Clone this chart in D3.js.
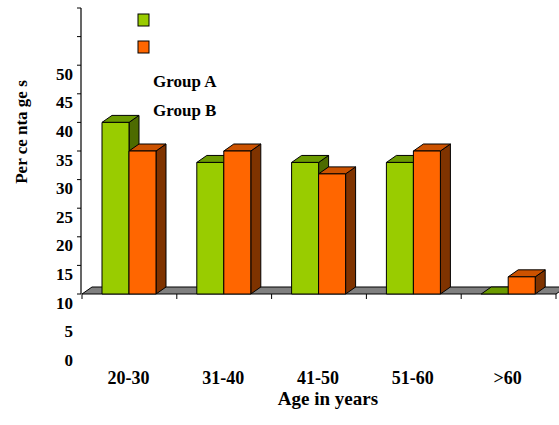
<!DOCTYPE html>
<html>
<head>
<meta charset="utf-8">
<script src="https://cdn.jsdelivr.net/npm/d3@7"></script>
<style>
  html, body { margin: 0; padding: 0; background: #fff; }
  svg { display: block; }
  text { font-family: "Times New Roman", "Liberation Serif", serif; font-weight: bold; fill: #000; }
</style>
</head>
<body>
<script>
// Age groups and percentage of each group
const categories = ["20-30", "31-40", "41-50", "51-60", ">60"];
const groupA = [40, 33, 33, 33, 10];
const groupB = [35, 35, 31, 35, 13];
const seriesNames = ["Group A", "Group B"];
const axisTicks = [10, 15, 20, 25, 30, 35, 40, 45, 50, 55, 60];
const tickLabels = [0, 5, 10, 15, 20, 25, 30, 35, 40, 45, 50];

const W = 559, H = 425;
const svg = d3.select("body").append("svg").attr("width", W).attr("height", H);

// 3D depth offset
const DX = 10, DY = -7;

const y = d3.scaleLinear().domain([10, 60]).range([294, 8]);
const x = d3.scaleBand().domain(categories).range([82, 556]);
const xs = d3.scaleBand().domain(seriesNames).range([20, 74]);

const palette = {
  "Group A": { front: "#99cc00", top: "#6b9a00", side: "#4d6b00" },
  "Group B": { front: "#ff6600", top: "#cc5200", side: "#7f3300" }
};

// floor
const fl = x.range()[0], fr = x.range()[1], fy = y(10);
svg.append("polygon")
  .attr("points", [[fl, fy], [fl + DX, fy + DY], [fr + DX, fy + DY], [fr, fy]].join(" "))
  .attr("fill", "#808080").attr("stroke", "#000").attr("stroke-width", 1);

// vertical axis
svg.append("line").attr("x1", 81).attr("x2", 81).attr("y1", y(60)).attr("y2", y(10))
  .attr("stroke", "#000").attr("stroke-width", 1.2);
svg.selectAll(".ytick").data(axisTicks).enter().append("line")
  .attr("x1", 77).attr("x2", 81)
  .attr("y1", d => y(d)).attr("y2", d => y(d))
  .attr("stroke", "#000");

svg.selectAll(".ylab").data(tickLabels).enter().append("text")
  .attr("x", 73).attr("y", d => y(d) + 9)
  .attr("text-anchor", "end").attr("dominant-baseline", "central")
  .style("font-size", "17px").text(d => d);

// horizontal axis ticks along the floor front edge
const bounds = categories.map(c => x(c)).concat([fr]);
svg.selectAll(".xtick").data(bounds).enter().append("line")
  .attr("x1", d => d).attr("x2", d => d)
  .attr("y1", fy).attr("y2", fy + 5)
  .attr("stroke", "#000");

// bars
const bars = [];
categories.forEach((c, i) => {
  bars.push({ cat: c, s: "Group A", v: groupA[i] });
  bars.push({ cat: c, s: "Group B", v: groupB[i] });
});

const g = svg.append("g");
bars.forEach(b => {
  const x0 = x(b.cat) + xs(b.s), w = xs.bandwidth();
  const yt = y(b.v), yb = y(10);
  const col = palette[b.s];
  const bg = g.append("g").attr("stroke", "#000").attr("stroke-width", 1).attr("stroke-linejoin", "round");
  if (yb - yt > 0) {
    // side face
    bg.append("polygon")
      .attr("points", [[x0 + w, yt], [x0 + w + DX, yt + DY], [x0 + w + DX, yb + DY], [x0 + w, yb]].join(" "))
      .attr("fill", col.side);
  }
  // top face
  bg.append("polygon")
    .attr("points", [[x0, yt], [x0 + DX, yt + DY], [x0 + w + DX, yt + DY], [x0 + w, yt]].join(" "))
    .attr("fill", col.top);
  if (yb - yt > 0) {
    // front face
    bg.append("rect").attr("x", x0).attr("y", yt).attr("width", w).attr("height", yb - yt)
      .attr("fill", col.front);
  }
});

// category labels
svg.selectAll(".xlab").data(categories).enter().append("text")
  .attr("x", d => x(d) + x.bandwidth() / 2 - 1).attr("y", 384)
  .attr("text-anchor", "middle").style("font-size", "18px").text(d => d);

// axis titles
svg.append("text").attr("x", 328).attr("y", 405).attr("text-anchor", "middle")
  .style("font-size", "19px").text("Age in years");

svg.append("text")
  .attr("transform", "translate(27,132) rotate(-90)")
  .attr("text-anchor", "middle")
  .style("font-size", "17px")
  .text("Per ce nta ge s");

// legend
seriesNames.forEach((s, i) => {
  svg.append("rect").attr("x", 138).attr("y", 14 + i * 27).attr("width", 11).attr("height", 12)
    .attr("fill", palette[s].front).attr("stroke", "#000").attr("stroke-width", 1);
  svg.append("text").attr("x", 153).attr("y", 87 + i * 29)
    .style("font-size", "17px").text(s);
});
</script>
</body>
</html>
